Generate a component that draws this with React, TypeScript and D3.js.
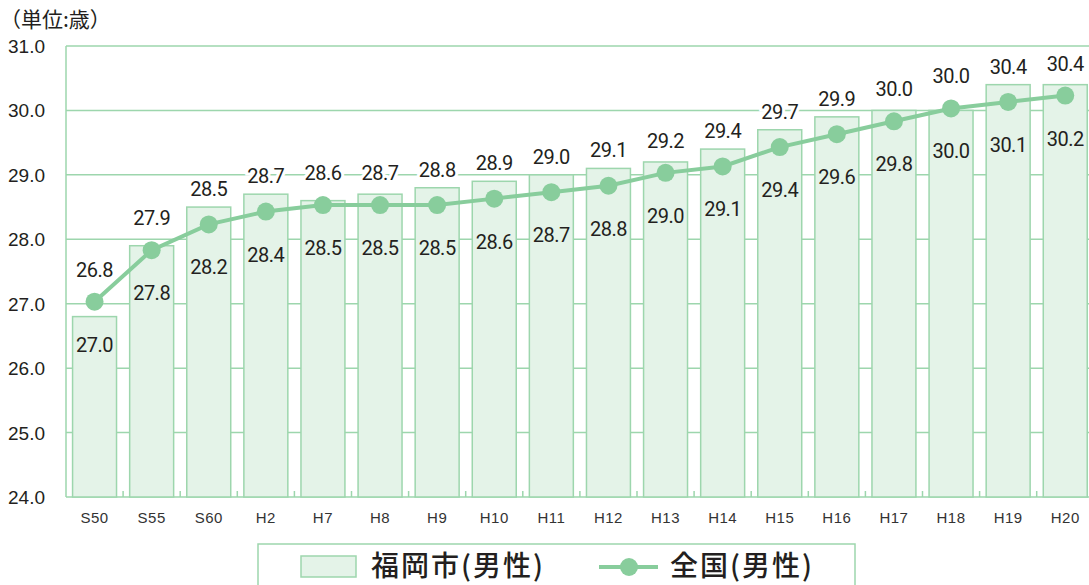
import React from "react";
import * as d3 from "d3";

const categories = ["S50","S55","S60","H2","H7","H8","H9","H10","H11","H12","H13","H14","H15","H16","H17","H18","H19","H20"];
const fukuoka = [26.8,27.9,28.5,28.7,28.6,28.7,28.8,28.9,29.0,29.1,29.2,29.4,29.7,29.9,30.0,30.0,30.4,30.4];
const national = [27.0,27.8,28.2,28.4,28.5,28.5,28.5,28.6,28.7,28.8,29.0,29.1,29.4,29.6,29.8,30.0,30.1,30.2];
const yTicks = [24,25,26,27,28,29,30,31];
const unitLabel = "（単位:歳）";
const legendBar = "福岡市(男性)";
const legendLine = "全国(男性)";

const W = 1089, H = 585;
const left = 66, top = 46, bottom = 497;
const step = 57.1;
const right = left + step * categories.length;

const GRID = "#9dd6ad";
const FILL = "#e4f3e8";
const LINE = "#88cd9c";
const TEXT = "#231f20";

export default function App() {
  const x = d3.scaleBand<string>().domain(categories).range([left, right]).paddingInner(0.23).paddingOuter(0.115);
  const y = d3.scaleLinear().domain([24, 31]).range([bottom, top]);
  const cx = (c: string) => (x(c) as number) + x.bandwidth() / 2;
  const lineGen = d3.line<number>().x((_, i) => cx(categories[i])).y((v) => y(v) - 2);
  const numFont = "Roboto, 'Liberation Sans', sans-serif";
  const cjk = "'Noto Sans CJK JP', sans-serif";
  return (
    <svg width={W} height={H} style={{ position: "absolute", left: 0, top: 0, display: "block" }}>
      <rect x={0} y={0} width={W} height={H} fill="#fff" />
      <text x={0} y={27} fontSize={21} fontFamily={cjk} fill={TEXT}>{unitLabel}</text>
      {yTicks.map((t) => (
        <g key={t}>
          <line x1={left} x2={W} y1={y(t)} y2={y(t)} stroke={GRID} strokeWidth={1.5} />
          <text x={8} y={y(t) + 7} fontSize={19} fontFamily="'Liberation Sans', Arial, sans-serif" fill={TEXT}>{t.toFixed(1)}</text>
        </g>
      ))}
      <line x1={left} x2={left} y1={top} y2={bottom} stroke={GRID} strokeWidth={1.5} />
      {categories.map((c, i) => (
        <line key={"tk" + i} x1={left + step * (i + 1)} x2={left + step * (i + 1)} y1={bottom} y2={bottom - 6} stroke={GRID} strokeWidth={1.5} />
      ))}
      {categories.map((c, i) => (
        <rect key={"b" + c} x={x(c)} y={y(fukuoka[i])} width={x.bandwidth()} height={bottom - y(fukuoka[i])} fill={FILL} stroke={GRID} strokeWidth={1.5} />
      ))}
      {categories.map((c) => (
        <text key={"xl" + c} x={cx(c)} y={523} textAnchor="middle" fontSize={15} fontFamily="'Liberation Sans', Arial, sans-serif" fill="#333"
          style={{ letterSpacing: "0.5px" }}>{c}</text>
      ))}
      <path d={lineGen(national) || ""} fill="none" stroke={LINE} strokeWidth={4} />
      {categories.map((c, i) => (
        <circle key={"p" + c} cx={cx(c)} cy={y(national[i]) - 2} r={9} fill={LINE} />
      ))}
      {categories.map((c, i) => {
        const ly = Math.min(y(fukuoka[i]) - 19, y(national[i]) - 35);
        return (
          <text key={"lb" + c} x={cx(c)} y={ly + 8} textAnchor="middle" fontSize={20} fontFamily={numFont} fill={TEXT}
            stroke="#fff" strokeWidth={6} paintOrder="stroke" style={{ letterSpacing: "-0.5px" }}>{fukuoka[i].toFixed(1)}</text>
        );
      })}
      {categories.map((c, i) => (
        <text key={"ll" + c} x={cx(c)} y={y(national[i]) + 40 + 8} textAnchor="middle" fontSize={20} fontFamily={numFont} fill={TEXT}
          style={{ letterSpacing: "-0.5px" }}>{national[i].toFixed(1)}</text>
      ))}
      <rect x={258} y={544} width={597} height={60} fill="#fff" stroke={GRID} strokeWidth={1.5} />
      <rect x={301} y={556} width={55} height={21} fill={FILL} stroke={GRID} strokeWidth={1.5} />
      <text x={371} y={576} fontSize={28} fontWeight={500} fontFamily={cjk} fill={TEXT} style={{ letterSpacing: "2px" }}>{legendBar}</text>
      <line x1={599} x2={658} y1={567} y2={567} stroke={LINE} strokeWidth={4} />
      <circle cx={629} cy={567} r={9} fill={LINE} />
      <text x={670} y={576} fontSize={28} fontWeight={500} fontFamily={cjk} fill={TEXT} style={{ letterSpacing: "2px" }}>{legendLine}</text>
    </svg>
  );
}
